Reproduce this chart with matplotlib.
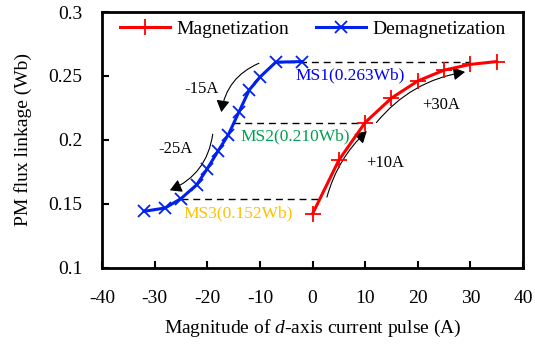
import matplotlib
matplotlib.use("Agg")
import matplotlib.pyplot as plt
from matplotlib.patches import FancyArrowPatch

plt.rcParams['font.family'] = ['Liberation Serif', 'DejaVu Serif']
plt.rcParams['mathtext.fontset'] = 'custom'
plt.rcParams['mathtext.it'] = 'Liberation Serif:italic'
plt.rcParams['mathtext.rm'] = 'Liberation Serif'
plt.rcParams['axes.unicode_minus'] = False

mag_x = [0, 5, 10, 15, 20, 25, 30, 35]
mag_y = [0.142, 0.184, 0.2135, 0.2326, 0.246, 0.2545, 0.259, 0.2612]
demag_x = [-32, -28, -25, -22, -20, -18, -16, -14, -12, -10, -7, -2]
demag_y = [0.144, 0.1466, 0.1539, 0.1648, 0.1773, 0.1909, 0.2039, 0.2216, 0.2391, 0.249, 0.2607, 0.2612]

ms_labels = ['MS1(0.263Wb)', 'MS2(0.210Wb)', 'MS3(0.152Wb)']
ms_colors = ['#0000ff', '#00a050', '#ffc000']
ms_levels = [0.2607, 0.2135, 0.1539]
ms_xrange = [(-7, 30), (-15.2, 10), (-25, 1.3)]
ms_text_pos = [(-3.2, 0.2505), (-13.6, 0.2025), (-24.6, 0.1427)]

fig = plt.figure(figsize=(5.35, 3.5), dpi=100)
ax = fig.add_axes([0.1907, 0.2357, 0.7869, 0.73])

for (x0, x1), lv in zip(ms_xrange, ms_levels):
    ax.plot([x0, x1], [lv, lv], ls=(0, (5, 3.5)), color='black', lw=1.0, zorder=1)

ax.plot(mag_x, mag_y, color='#ff0000', lw=2.2, marker='+', ms=11, mew=1.3,
        label='Magnetization', zorder=3)
ax.plot(demag_x, demag_y, color='#0022ee', lw=2.2, marker='x', ms=8, mew=1.3,
        label='Demagnetization', zorder=3)

for lab, col, (tx, ty) in zip(ms_labels, ms_colors, ms_text_pos):
    ax.text(tx, ty, lab, color=col, fontsize=12.5, ha='left', va='center')

arrows = [
    ((-9.7, 0.2607), (-17.4, 0.2195), 0.3, '-15A', (-21.0, 0.2395)),
    ((-18.9, 0.2065), (-27.6, 0.1596), -0.3, '-25A', (-26.0, 0.1925)),
    ((2.6, 0.153), (10.7, 0.2083), -0.15, '+10A', (13.8, 0.1818)),
    ((11.8, 0.2117), (29.5, 0.2534), -0.2, '+30A', (24.5, 0.2275)),
]
for start, end, rad, lab, tpos in arrows:
    a = FancyArrowPatch(start, end, connectionstyle=f'arc3,rad={rad}',
                        arrowstyle='-|>,head_length=7,head_width=4',
                        color='black', lw=0.8, zorder=2)
    ax.add_patch(a)
    ax.text(tpos[0], tpos[1], lab, fontsize=12, ha='center', va='center')

ax.set_xlim(-40, 40)
ax.set_ylim(0.1, 0.3)
ax.set_xticks(range(-40, 41, 10))
ax.set_yticks([0.1, 0.15, 0.2, 0.25, 0.3])
ax.set_yticklabels(['0.1', '0.15', '0.2', '0.25', '0.3'])
ax.tick_params(direction='in', length=5, width=1.5, labelsize=14)
ax.tick_params(axis='y', pad=14)
ax.tick_params(axis='x', pad=16)
for s in ax.spines.values():
    s.set_linewidth(2)

ax.set_xlabel('Magnitude of $\\mathit{d}$-axis current pulse (A)', fontsize=14, labelpad=8)
ax.set_ylabel('PM flux linkage (Wb)', fontsize=14, labelpad=12)

ax.legend(loc='upper center', ncol=2, frameon=False, fontsize=14,
          handlelength=2.6, columnspacing=1.4, handletextpad=0.3,
          borderaxespad=0.15, bbox_to_anchor=(0.5, 1.01))

fig.savefig('out.png', dpi=100)
